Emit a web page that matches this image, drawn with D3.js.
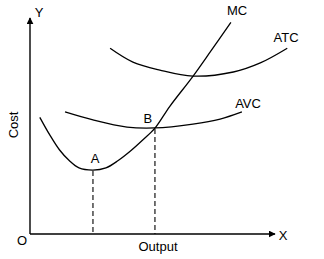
<!DOCTYPE html>
<html>
<head>
    <meta charset="UTF-8">
    <title>Cost curves</title>
    <script src="https://cdn.jsdelivr.net/npm/d3@7"></script>
    <style>
        body { margin: 0; background: #fff; }
        text { font-family: "Liberation Sans", Arial, sans-serif; font-size: 13px; fill: #000; }
    </style>
</head>
<body>
<svg id="chart"></svg>
<script>
    // curve points: [output, cost]
    const mcPoints = [[4, 54], [8, 46], [12, 39], [16, 34], [20, 30.6], [25.7, 29.6], [31, 30.6],
        [36, 34], [41, 38.4], [46, 43.5], [51, 49], [57, 59], [66.5, 73], [74, 85], [82, 98]];
    const atcPoints = [[32.7, 86], [42, 79.6], [53, 75.9], [66.5, 73.1], [83, 75], [94, 79.2], [105, 86]];
    const avcPoints = [[14.3, 56.5], [25.7, 52.8], [39.6, 49.5], [51, 49.1], [66.5, 50.9], [77.6, 53.2], [86.5, 56.5]];
    const curveLabels = [
        {name: "MC", x: 84.5, y: 101.4},
        {name: "ATC", x: 104.5, y: 89},
        {name: "AVC", x: 89, y: 58.3}
    ];
    const points = [
        {name: "A", x: 25.7, y: 29.6},
        {name: "B", x: 51, y: 49.1}
    ];

    const width = 324, height = 259;

    const x = d3.scaleLinear().domain([0, 100]).range([30, 275]);
    const y = d3.scaleLinear().domain([0, 100]).range([234, 18]);

    const svg = d3.select("#chart")
        .attr("width", width)
        .attr("height", height);

    // arrow heads
    svg.append("defs").append("marker")
        .attr("id", "arrow")
        .attr("viewBox", "0 0 10 10")
        .attr("refX", 9).attr("refY", 5)
        .attr("markerWidth", 7).attr("markerHeight", 7)
        .attr("markerUnits", "userSpaceOnUse")
        .attr("orient", "auto")
      .append("path")
        .attr("d", "M0,0 L10,5 L0,10 Z")
        .attr("fill", "#000");

    // axes
    svg.append("line")
        .attr("x1", x(0)).attr("y1", y(0))
        .attr("x2", x(0)).attr("y2", y(100))
        .attr("stroke", "#000").attr("stroke-width", 1.4)
        .attr("marker-end", "url(#arrow)");
    svg.append("line")
        .attr("x1", x(0)).attr("y1", y(0))
        .attr("x2", x(100)).attr("y2", y(0))
        .attr("stroke", "#000").attr("stroke-width", 1.4)
        .attr("marker-end", "url(#arrow)");

    // dashed drop lines from A and B
    svg.selectAll(".drop")
        .data(points)
        .join("line")
        .attr("class", "drop")
        .attr("x1", d => x(d.x)).attr("y1", d => y(d.y) + 1)
        .attr("x2", d => x(d.x)).attr("y2", y(0))
        .attr("stroke", "#000").attr("stroke-width", 1.1)
        .attr("stroke-dasharray", "5,3");

    // cost curves
    const line = d3.line()
        .x(d => x(d[0]))
        .y(d => y(d[1]))
        .curve(d3.curveCatmullRom);

    svg.selectAll(".curve")
        .data([mcPoints, atcPoints, avcPoints])
        .join("path")
        .attr("class", "curve")
        .attr("d", line)
        .attr("fill", "none")
        .attr("stroke", "#000")
        .attr("stroke-width", 1.3);

    // labels
    svg.selectAll(".clabel")
        .data(curveLabels)
        .join("text")
        .attr("class", "clabel")
        .attr("x", d => x(d.x))
        .attr("y", d => y(d.y))
        .attr("text-anchor", "middle")
        .text(d => d.name);

    svg.selectAll(".plabel")
        .data(points)
        .join("text")
        .attr("class", "plabel")
        .attr("x", d => x(d.x) + (d.name == "A" ? 2 : -7))
        .attr("y", d => y(d.y) - (d.name == "A" ? 7 : 5))
        .attr("text-anchor", "middle")
        .text(d => d.name);

    svg.append("text").attr("x", 39).attr("y", 17).attr("text-anchor", "middle").text("Y");
    svg.append("text").attr("x", 283).attr("y", 240).attr("text-anchor", "middle").text("X");
    svg.append("text").attr("x", 22).attr("y", 245).attr("text-anchor", "middle").text("O");
    svg.append("text").attr("x", 158).attr("y", 251).attr("text-anchor", "middle").text("Output");
    svg.append("text")
        .attr("transform", "translate(18,125) rotate(-90)")
        .attr("text-anchor", "middle")
        .text("Cost");
</script>
</body>
</html>
